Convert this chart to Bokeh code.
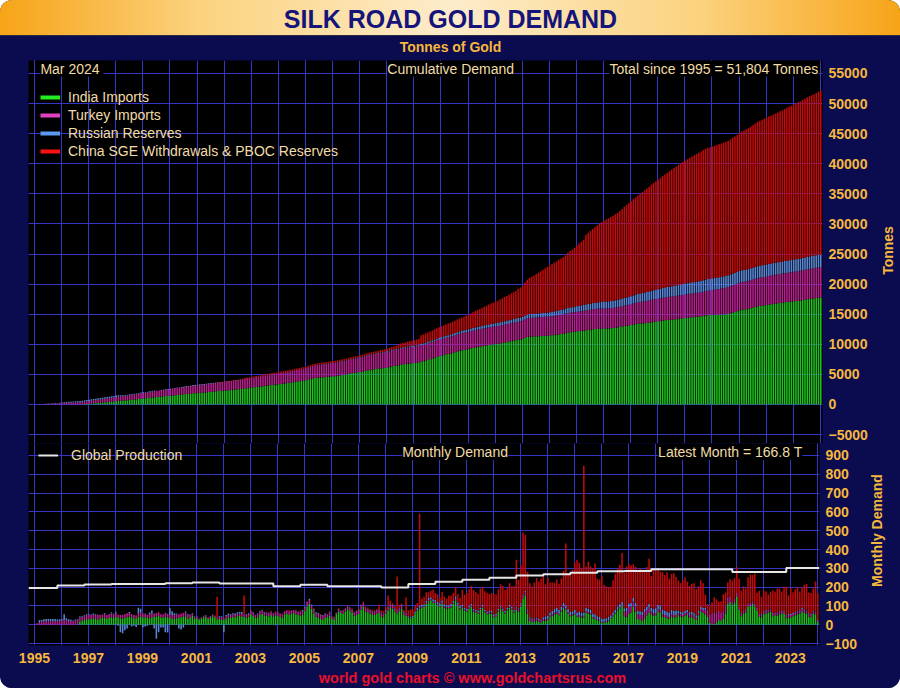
import math
import numpy as np
from bokeh.plotting import figure
from bokeh.models import Range1d, FixedTicker, Grid, Legend, LegendItem, Label
from bokeh.layouts import column, row
from bokeh.embed import file_html
from bokeh.resources import INLINE

# ---------------- data (monthly tonnes, one row per year 1995..2024) ----------------
years = list(range(1995, 2025))
axis_years = list(range(1995, 2024, 2))

india_imports = [
    [0, 0, 0, 0, 0, 0, 0, 0, 0, 0, 0, 0],
    [0, 0, 0, 0, 0, 0, 0, 0, 0, 0, 18, 22],
    [25, 30, 28, 32, 35, 30, 27, 33, 36, 38, 30, 36],
    [40, 36, 42, 38, 35, 33, 37, 39, 44, 40, 35, 31],
    [42, 45, 38, 40, 36, 35, 39, 41, 43, 46, 38, 37],
    [44, 40, 36, 33, 30, 35, 38, 40, 41, 45, 32, 36],
    [48, 30, 35, 26, 32, 38, 42, 30, 36, 45, 40, 28],
    [30, 28, 25, 33, 40, 36, 42, 38, 45, 47, 44, 42],
    [38, 42, 55, 48, 36, 40, 52, 58, 50, 46, 44, 51],
    [45, 50, 48, 42, 38, 55, 60, 52, 58, 62, 56, 54],
    [48, 55, 72, 95, 110, 85, 60, 42, 38, 30, 28, 37],
    [40, 48, 30, 25, 55, 70, 62, 58, 70, 82, 75, 65],
    [48, 52, 58, 80, 95, 72, 66, 60, 55, 52, 60, 62],
    [45, 40, 60, 75, 90, 85, 70, 58, 72, 85, 52, 48],
    [40, 35, 38, 60, 75, 85, 90, 95, 110, 125, 130, 117],
    [115, 105, 95, 110, 90, 85, 88, 92, 110, 130, 100, 80],
    [90, 75, 70, 85, 95, 70, 65, 60, 78, 92, 65, 55],
    [60, 58, 40, 45, 70, 85, 72, 60, 75, 90, 80, 65],
    [80, 70, 95, 140, 155, 60, 20, 15, 18, 22, 15, 10],
    [20, 22, 25, 40, 48, 55, 60, 50, 70, 90, 80, 60],
    [45, 50, 55, 42, 45, 38, 40, 65, 60, 55, 35, 30],
    [25, 20, 10, 12, 15, 20, 30, 45, 60, 75, 88, 100],
    [45, 40, 60, 65, 95, 70, 30, 25, 20, 35, 50, 65],
    [55, 48, 50, 70, 65, 42, 40, 35, 30, 45, 40, 40],
    [50, 45, 40, 48, 52, 40, 40, 35, 25, 50, 70, 65],
    [55, 45, 10, 3, 5, 15, 25, 20, 30, 60, 110, 122],
    [105, 120, 150, 80, 45, 60, 65, 95, 100, 110, 95, 75],
    [45, 40, 55, 60, 65, 70, 45, 50, 48, 55, 60, 57],
    [35, 40, 38, 45, 50, 55, 60, 70, 65, 58, 44, 40],
    [60, 56, 14],
]

turkey_imports = [
    [0, 0, 2, 4, 14, 16, 18, 20, 18, 20, 19, 19],
    [18, 20, 22, 25, 24, 20, 18, 19, 22, 24, 20, 18],
    [20, 22, 25, 20, 18, 22, 24, 20, 18, 22, 20, 19],
    [20, 18, 22, 15, 16, 18, 20, 22, 18, 17, 16, 18],
    [18, 20, 22, 19, 17, 20, 21, 18, 19, 20, 18, 18],
    [20, 18, 17, 19, 21, 20, 18, 19, 22, 20, 18, 18],
    [12, 10, 8, 6, 5, 6, 8, 9, 8, 9, 9, 10],
    [10, 11, 12, 13, 12, 12, 13, 14, 13, 13, 14, 13],
    [14, 15, 16, 15, 14, 15, 16, 15, 14, 15, 16, 15],
    [15, 16, 17, 18, 17, 16, 17, 18, 17, 16, 17, 16],
    [18, 17, 19, 20, 22, 18, 17, 18, 19, 18, 17, 17],
    [14, 15, 12, 10, 8, 10, 12, 13, 14, 15, 14, 13],
    [15, 16, 18, 20, 19, 17, 16, 15, 16, 17, 15, 16],
    [16, 15, 14, 16, 18, 15, 14, 15, 16, 15, 13, 13],
    [2, 1, 0, 0, 3, 5, 6, 6, 7, 7, 6, 7],
    [6, 5, 6, 7, 8, 7, 6, 7, 7, 8, 6, 7],
    [7, 6, 7, 6, 8, 7, 6, 7, 6, 7, 6, 7],
    [6, 7, 6, 7, 6, 7, 7, 6, 7, 7, 7, 7],
    [10, 12, 14, 15, 18, 16, 14, 12, 11, 10, 9, 9],
    [8, 9, 8, 9, 8, 8, 9, 8, 8, 9, 8, 8],
    [7, 6, 7, 6, 7, 6, 7, 7, 7, 7, 6, 7],
    [4, 4, 5, 4, 4, 4, 4, 4, 4, 5, 4, 4],
    [25, 30, 35, 32, 28, 30, 25, 28, 30, 32, 28, 27],
    [15, 14, 13, 12, 12, 13, 12, 12, 11, 12, 12, 12],
    [10, 11, 12, 12, 13, 13, 14, 13, 12, 13, 14, 13],
    [25, 30, 40, 55, 60, 50, 48, 45, 42, 40, 35, 30],
    [18, 16, 15, 14, 15, 14, 15, 16, 15, 14, 14, 14],
    [12, 13, 12, 13, 12, 12, 13, 12, 12, 13, 13, 13],
    [13, 12, 13, 12, 13, 12, 12, 13, 12, 13, 12, 13],
    [10, 10, 10],
]

russia_reserves = [
    [0, 0, 1, 2, 10, 9, 11, 10, 12, 11, 12, 12],
    [10, 9, 8, 30, 10, 9, 8, 4, 6, 5, 6, 5],
    [5, 4, 3, 2, 6, 3, 2, 0, 0, 2, 1, 2],
    [5, 4, 3, -5, -40, -45, -30, -20, 5, -10, -5, -12],
    [30, 20, -15, -10, -5, 10, 15, -20, -75, -40, -15, -15],
    [-40, -42, 35, 20, 10, 5, -20, -25, -15, 5, 5, 2],
    [2, 3, 2, 1, 2, 3, 2, 1, 2, 1, 0, 1],
    [5, 6, -40, 6, 7, 8, 6, 7, 8, 7, 10, 0],
    [3, 4, 3, 4, 3, 4, 3, 4, 3, 3, 3, 3],
    [2, -3, 1, -2, 0, 1, -1, 2, 0, -1, 1, 0],
    [4, 6, 5, 5, 6, 4, 5, 6, 5, 4, 5, 5],
    [2, 3, 2, 3, 2, 3, 2, 3, 2, 3, 2, 3],
    [3, 3, 3, 3, 3, 3, 3, 3, 3, 2, 3, 3],
    [4, 4, 4, 4, 4, 4, 4, 4, 3, 3, 3, 4],
    [5, 6, 8, 10, 12, 10, 9, 8, 10, 11, 10, 11],
    [12, 11, 13, 12, 11, 12, 10, 12, 11, 12, 12, 12],
    [8, 8, 8, 8, 8, 8, 8, 8, 8, 8, 7, 8],
    [7, 8, 7, 8, 7, 8, 7, 8, 7, 8, 7, 8],
    [6, 6, 5, 6, 6, 6, 6, 6, 6, 6, 6, 5],
    [12, 14, 15, 16, 18, 20, 22, 20, 18, 16, 14, 15],
    [15, 16, 18, 17, 18, 19, 18, 17, 18, 18, 18, 18],
    [16, 17, 16, 17, 16, 17, 16, 17, 17, 17, 17, 17],
    [18, 19, 18, 19, 19, 18, 19, 19, 19, 19, 19, 19],
    [20, 22, 24, 23, 25, 24, 23, 22, 24, 23, 22, 23],
    [15, 14, 14, 13, 14, 13, 14, 13, 13, 12, 13, 12],
    [10, 5, 2, 1, 1, 1, 0, 0, 0, 0, 0, 0],
    [2, 2, 2, 2, 2, 1, 2, 1, 2, 1, 2, 1],
    [3, 4, 3, 4, 3, 3, 4, 3, 3, 4, 3, 3],
    [4, 5, 6, 5, 5, 4, 5, 6, 5, 5, 5, 5],
    [3, 4, 2],
]

china_sge_pboc = [
    [0, 0, 0, 0, 0, 0, 0, 0, 0, 0, 0, 0],
    [0, 0, 0, 0, 0, 0, 0, 0, 0, 0, 0, 0],
    [0, 0, 0, 0, 0, 0, 0, 0, 0, 0, 0, 0],
    [0, 0, 0, 0, 0, 0, 0, 0, 0, 0, 0, 0],
    [0, 0, 0, 0, 0, 0, 0, 0, 0, 0, 0, 0],
    [0, 0, 0, 0, 0, 0, 0, 0, 0, 0, 0, 0],
    [0, 0, 0, 0, 0, 0, 0, 0, 0, 0, 0, 110],
    [0, 0, 0, 0, 0, 0, 0, 0, 0, 0, 0, 100],
    [0, 0, 5, 0, 0, 0, 5, 0, 0, 5, 0, 5],
    [0, 5, 0, 0, 5, 0, 0, 5, 0, 0, 5, 0],
    [5, 0, 0, 5, 0, 0, 5, 0, 0, 5, 0, 0],
    [0, 5, 0, 5, 0, 5, 0, 5, 0, 5, 0, 5],
    [3, 6, 5, 4, 7, 5, 6, 4, 5, 6, 4, 25],
    [10, 15, 15, 60, 15, 10, 10, 180, 15, 10, 10, 80],
    [30, 40, 35, 30, 25, 490, 35, 40, 45, 30, 35, 51],
    [35, 40, 30, 45, 40, 35, 50, 45, 40, 50, 45, 45],
    [80, 70, 85, 90, 95, 100, 95, 90, 100, 95, 100, 100],
    [90, 95, 110, 100, 105, 115, 120, 110, 105, 115, 110, 125],
    [250, 150, 200, 330, 300, 200, 180, 170, 190, 210, 200, 220],
    [230, 170, 200, 160, 150, 140, 150, 140, 150, 170, 330, 190],
    [210, 220, 250, 280, 260, 240, 780, 220, 250, 230, 240, 270],
    [200, 200, 230, 180, 170, 160, 150, 170, 190, 200, 210, 260],
    [190, 220, 210, 200, 180, 190, 210, 230, 220, 200, 210, 240],
    [170, 210, 200, 190, 180, 200, 190, 210, 180, 190, 200, 180],
    [160, 150, 170, 180, 150, 140, 150, 160, 140, 130, 140, 130],
    [70, 30, 50, 60, 80, 70, 50, 60, 90, 70, 80, 90],
    [110, 110, 140, 150, 120, 130, 110, 140, 150, 140, 160, 80],
    [120, 90, 110, 100, 80, 90, 120, 110, 130, 120, 100, 130],
    [150, 100, 140, 110, 120, 130, 100, 110, 130, 140, 110, 110],
    [120, 160, 140.8],
]

# global mine production, monthly rate for each year (tonnes)
global_production = [195, 209, 214, 216, 216, 221, 224, 219, 219, 205, 212, 205, 205, 198, 216,
                     228, 239, 250, 262, 268, 277, 284, 285, 295, 295, 295, 280, 280, 301, 301]

legend_labels = ["India Imports", "Turkey Imports", "Russian Reserves",
                 "China SGE Withdrawals & PBOC Reserves"]
latest_label = "Mar  2024"
total_text = "Total since 1995 = 51,804 Tonnes"
latest_month_text = "Latest Month = 166.8 T"
footer_text = "world gold charts \u00a9 www.goldchartsrus.com"

# ---------------- styling ----------------
FONT = "Liberation Sans"
NAVY = "#0b0b4f"
GRID = "#3535c6"
ORANGE = "#f5b83d"
TXT = "#f0dca8"
C_INDIA, C_TURKEY, C_RUSSIA, C_CHINA = "#1fbf1f", "#b8208e", "#5a88d8", "#c40a0a"
L_INDIA, L_TURKEY, L_RUSSIA, L_CHINA = "#22ee22", "#e040c0", "#5a9af0", "#ff1010"
W = 900
LEFT = 28
FW = 794
UP_SIDE, LOW_SIDE = 26, 40
HDR_H, UP_H, LOW_FH, LOW_B, FOOT_H = 60, 383, 202, 23, 20
BAR_SHIFT = -0.15
BAR_W = 0.68 / 12
X_START, X_END = 1994.78, 2024.08
UP_Y = (-6481, 57160)
LOW_Y = (-110.6, 963.8)


def flat(rows):
    return np.array([v for r in rows for v in r], dtype=float)


india = flat(india_imports)
turkey = flat(turkey_imports)
russia = flat(russia_reserves)
china = flat(china_sge_pboc)
n = len(india)
xm = 1995 + np.arange(n) / 12.0 + BAR_SHIFT

xr = Range1d(X_START, X_END)


def blank(width, height, xrange, yrange, **kw):
    p = figure(width=width, height=height, x_range=xrange, y_range=yrange,
               toolbar_location=None, output_backend="svg", x_axis_location=None,
               y_axis_location=None, outline_line_color=None, **kw)
    for g in p.grid:
        g.visible = False
    return p


# ---------------- header ----------------
HDR_BG = ("linear-gradient(to bottom, rgba(0,0,0,0) 0px, rgba(0,0,0,0) 35px, #2a2a44 35px, "
          "#2a2a44 36px, " + NAVY + " 36px), "
          "linear-gradient(to right, #f7a418 0%, #fbd27e 22%, #fdeccb 50%, #fbd27e 78%, #f7a418 100%)")
hdr = blank(W, HDR_H, (0, FW), (0, HDR_H), min_border_left=LEFT,
            min_border_right=W - LEFT - FW, min_border_top=0, min_border_bottom=0,
            background_fill_alpha=0, border_fill_alpha=0, styles={"background": HDR_BG})
hdr.add_layout(Label(x=W / 2 - LEFT, y=HDR_H - 18, text="SILK ROAD GOLD DEMAND",
                     text_align="center", text_baseline="middle", text_font=FONT,
                     text_font_size="25px", text_font_style="bold", text_color="#14147a"))
hdr.add_layout(Label(x=W / 2 - LEFT, y=HDR_H - 46, text="Tonnes of Gold", text_align="center",
                     text_baseline="middle", text_font=FONT, text_font_size="14px",
                     text_font_style="bold", text_color=ORANGE))


def style_y(p, ticks):
    ax = p.yaxis[0]
    ax.ticker = FixedTicker(ticks=ticks)
    ax.axis_line_color = None
    ax.major_tick_line_color = None
    ax.minor_tick_line_color = None
    ax.major_tick_out = 0
    ax.major_tick_in = 0
    ax.major_label_standoff = 6
    ax.major_label_text_color = ORANGE
    ax.major_label_text_font = FONT
    ax.major_label_text_font_size = "14px"
    ax.major_label_text_font_style = "bold"
    p.ygrid.grid_line_color = GRID
    p.ygrid.grid_line_width = 1


def side_title(width, height, text, x, y):
    s = blank(width, height, (0, width), (0, height), min_border=0,
              background_fill_color=NAVY, border_fill_color=NAVY)
    s.add_layout(Label(x=x, y=y, text=text, angle=math.pi / 2, text_align="center",
                       text_baseline="middle", text_font=FONT, text_font_size="14px",
                       text_font_style="bold", text_color=ORANGE))
    return s


# ---------------- upper: cumulative ----------------
up_w = W - UP_SIDE
up = figure(width=up_w, height=UP_H, x_range=xr, y_range=Range1d(*UP_Y),
            toolbar_location=None, output_backend="svg", x_axis_location=None,
            y_axis_location="right", min_border_left=LEFT, min_border_right=up_w - LEFT - FW,
            min_border_top=0, min_border_bottom=0, background_fill_color="black",
            border_fill_color=NAVY, outline_line_color=None)
style_y(up, list(range(-5000, 55001, 5000)))
up.add_layout(Grid(dimension=0, ticker=FixedTicker(ticks=years), grid_line_color=GRID))

b1 = np.cumsum(india)
b2 = b1 + np.cumsum(turkey)
b3 = b2 + np.cumsum(russia)
b4 = b3 + np.cumsum(china)
up.vbar(x=xm, width=BAR_W, bottom=0, top=b1, fill_color=C_INDIA, line_color=None)
up.vbar(x=xm, width=BAR_W, bottom=b1, top=b2, fill_color=C_TURKEY, line_color=None)
up.vbar(x=xm, width=BAR_W, bottom=b2, top=b3, fill_color=C_RUSSIA, line_color=None)
up.vbar(x=xm, width=BAR_W, bottom=b3, top=b4, fill_color=C_CHINA, line_color=None)

leg_r = []
for c in (L_INDIA, L_TURKEY, L_RUSSIA, L_CHINA):
    leg_r.append(up.line(x=np.array([np.nan]), y=np.array([np.nan]), line_color=c, line_width=4))
up_leg = Legend(items=[LegendItem(label=l, renderers=[r]) for l, r in zip(legend_labels, leg_r)],
                location=(12, UP_H - 18 - 82), label_text_color=TXT, label_text_font=FONT,
                label_text_font_size="14px", background_fill_alpha=0, border_line_color=None,
                glyph_width=20, glyph_height=18, label_height=18, spacing=0, padding=5,
                label_standoff=8, margin=0)
up.add_layout(up_leg)

for txt, xx, al in ((latest_label, 1995.22, "left"), ("Cumulative Demand", 2010.36, "center"),
                    (total_text, 2023.93, "right")):
    up.add_layout(Label(x=xx, y=55830, text=txt, text_align=al, text_baseline="middle",
                        text_font=FONT, text_font_size="14px", text_color=TXT,
                        background_fill_color="black"))

up_side = side_title(UP_SIDE, UP_H, "Tonnes", UP_SIDE / 2, UP_H - 190)

# ---------------- lower: monthly ----------------
low_w = W - LOW_SIDE
low = figure(width=low_w, height=LOW_FH + LOW_B, x_range=xr, y_range=Range1d(*LOW_Y),
             toolbar_location=None, output_backend="svg", y_axis_location="right",
             min_border_left=LEFT, min_border_right=low_w - LEFT - FW, min_border_top=0,
             min_border_bottom=LOW_B, background_fill_color="black", border_fill_color=NAVY,
             outline_line_color=None)
style_y(low, list(range(-100, 901, 100)))
xa = low.xaxis[0]
xa.ticker = FixedTicker(ticks=axis_years)
xa.axis_line_color = None
xa.major_tick_line_color = None
xa.minor_tick_line_color = None
xa.major_tick_out = 0
xa.major_tick_in = 0
xa.major_label_standoff = 7
xa.major_label_text_color = ORANGE
xa.major_label_text_font = FONT
xa.major_label_text_font_size = "14px"
xa.major_label_text_font_style = "bold"
low.xgrid.ticker = FixedTicker(ticks=years)
low.xgrid.grid_line_color = GRID

rpos = np.maximum(russia, 0)
rneg = np.minimum(russia, 0)
l1 = india
l2 = l1 + turkey
l3 = l2 + rpos
l4 = l3 + china
low.vbar(x=xm, width=BAR_W, bottom=0, top=l1, fill_color=C_INDIA, line_color=None)
low.vbar(x=xm, width=BAR_W, bottom=l1, top=l2, fill_color=C_TURKEY, line_color=None)
low.vbar(x=xm, width=BAR_W, bottom=l2, top=l3, fill_color=C_RUSSIA, line_color=None)
low.vbar(x=xm, width=BAR_W, bottom=0, top=rneg, fill_color=C_RUSSIA, line_color=None)
low.vbar(x=xm, width=BAR_W, bottom=l3, top=l4, fill_color=C_CHINA, line_color=None)

px = [X_START] + [y + BAR_SHIFT for y in years[1:]] + [X_END]
py = global_production + [global_production[-1]]
prod = low.step(x=px, y=py, mode="after", line_color="#e6e6e6", line_width=2)

low_leg = Legend(items=[LegendItem(label="Global Production", renderers=[prod])],
                 location=(10, LOW_FH - 21), label_text_color=TXT, label_text_font=FONT,
                 label_text_font_size="14px", background_fill_alpha=0, border_line_color=None,
                 glyph_width=20, glyph_height=18, label_height=18, spacing=0, padding=2,
                 label_standoff=13, margin=0)
low.add_layout(low_leg)

for txt, xx, al in (("Monthly Demand", 2010.58, "center"), (latest_month_text, 2023.45, "right")):
    low.add_layout(Label(x=xx, y=918, text=txt, text_align=al, text_baseline="middle",
                         text_font=FONT, text_font_size="14px", text_color=TXT,
                         background_fill_color="black"))

low_side = side_title(LOW_SIDE, LOW_FH + LOW_B, "Monthly Demand", 16, LOW_FH + LOW_B - 97)

# ---------------- footer ----------------
foot = blank(W, FOOT_H, (0, FW), (0, FOOT_H), min_border_left=LEFT,
             min_border_right=W - LEFT - FW, min_border_top=0, min_border_bottom=0,
             background_fill_color=NAVY, border_fill_color=NAVY)
foot.add_layout(Label(x=444, y=11, text=footer_text, text_align="center",
                      text_baseline="middle", text_font=FONT, text_font_size="14.5px",
                      text_font_style="bold", text_color="#e8102a"))

page = column(hdr, row(up, up_side, spacing=0), row(low, low_side, spacing=0), foot, spacing=0,
              styles={"background-color": NAVY, "border-radius": "12px", "overflow": "hidden"})

open("out.html", "w").write(file_html(page, INLINE, title="Silk Road Gold Demand"))
